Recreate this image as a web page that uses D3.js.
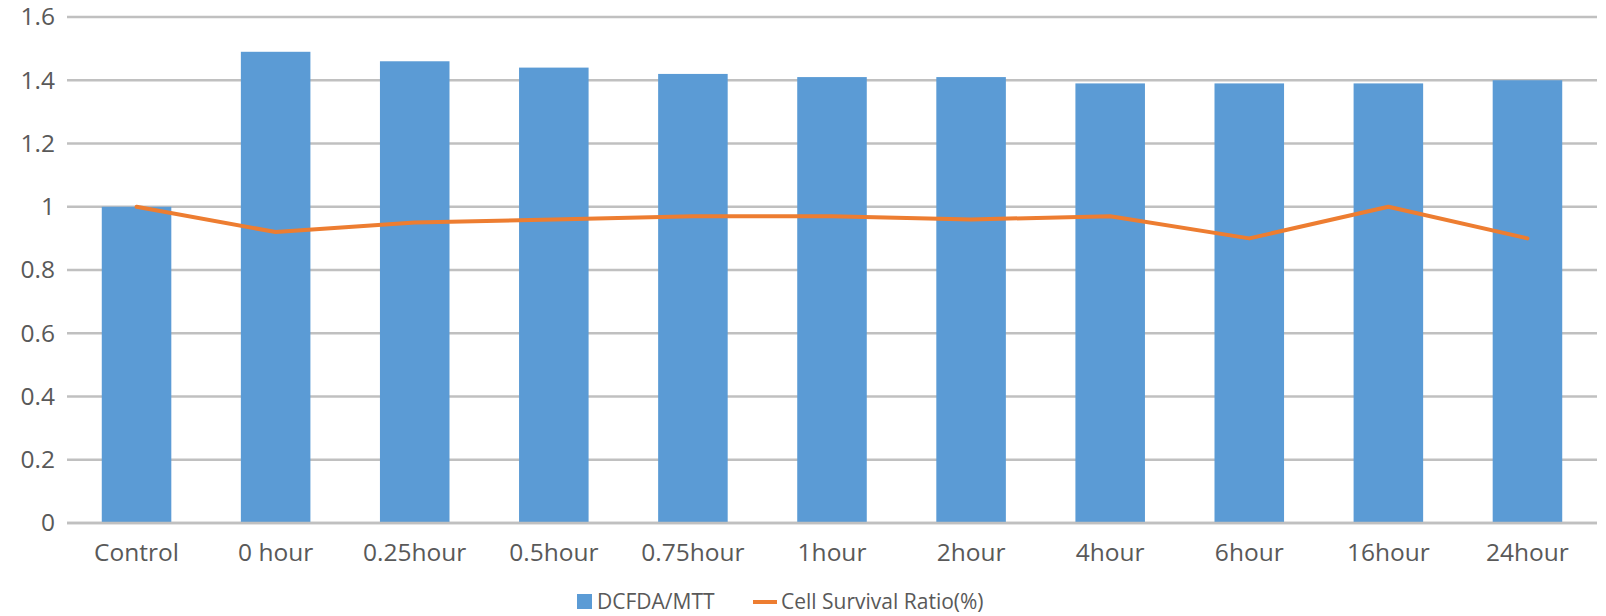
<!DOCTYPE html>
<html>
<head>
<meta charset="utf-8">
<script src="https://cdn.jsdelivr.net/npm/d3@7"></script>
<style>
  html, body { margin: 0; padding: 0; background: #fff; }
  svg { display: block; }
</style>
</head>
<body>
<svg id="chart" width="1606" height="616"></svg>
<script>
// Treatment time points
const categories = ["Control", "0 hour", "0.25hour", "0.5hour", "0.75hour", "1hour", "2hour", "4hour", "6hour", "16hour", "24hour"];
// DCFDA/MTT ratio per time point (bars)
const dcfdaMtt = [1.00, 1.49, 1.46, 1.44, 1.42, 1.41, 1.41, 1.39, 1.39, 1.39, 1.40];
// Cell survival ratio per time point (line)
const survival = [1.00, 0.92, 0.95, 0.96, 0.97, 0.97, 0.96, 0.97, 0.90, 1.00, 0.90];
// Value axis ticks
const yTicks = [0, 0.2, 0.4, 0.6, 0.8, 1, 1.2, 1.4, 1.6];
const legendLabels = ["DCFDA/MTT", "Cell Survival Ratio(%)"];

const W = 1606, H = 616;
const margin = { top: 17, right: 9, bottom: 93, left: 67 };
const svg = d3.select("#chart");
const font = "'Open Sans', sans-serif";
const axisFontSize = "24.5px";
const legendFontSize = "21px";
const textColor = "#595959";
const blue = "#5B9BD5", orange = "#ED7D31", gridColor = "#c0c0c0";

const x = d3.scaleBand()
  .domain(categories)
  .range([margin.left, W - margin.right])
  .paddingInner(0.5)
  .paddingOuter(0.25);

const y = d3.scaleLinear()
  .domain([0, 1.6])
  .range([H - margin.bottom, margin.top]);

// Horizontal gridlines
svg.append("g")
  .selectAll("line")
  .data(yTicks)
  .join("line")
  .attr("x1", margin.left)
  .attr("x2", W - margin.right)
  .attr("y1", d => y(d))
  .attr("y2", d => y(d))
  .attr("stroke", gridColor)
  .attr("stroke-width", 2.5);

// Y axis labels
const yAxis = d3.axisLeft(y).tickValues(yTicks).tickSize(0).tickPadding(12)
  .tickFormat(d3.format("~g"));
const yg = svg.append("g")
  .attr("transform", `translate(${margin.left},0)`)
  .call(yAxis);
yg.select(".domain").remove();
yg.selectAll("text")
  .attr("fill", textColor)
  .style("font-family", font)
  .style("font-size", axisFontSize);

// Bars
svg.append("g")
  .selectAll("rect")
  .data(categories)
  .join("rect")
  .attr("x", d => x(d))
  .attr("width", x.bandwidth())
  .attr("y", (d, i) => y(dcfdaMtt[i]))
  .attr("height", (d, i) => y(0) - y(dcfdaMtt[i]))
  .attr("fill", blue);

// Baseline
svg.append("line")
  .attr("x1", margin.left)
  .attr("x2", W - margin.right)
  .attr("y1", y(0))
  .attr("y2", y(0))
  .attr("stroke", gridColor)
  .attr("stroke-width", 2.5);

// Survival line
const line = d3.line()
  .x((d, i) => x(categories[i]) + x.bandwidth() / 2)
  .y(d => y(d));
svg.append("path")
  .datum(survival)
  .attr("d", line)
  .attr("fill", "none")
  .attr("stroke", orange)
  .attr("stroke-width", 4)
  .attr("stroke-linejoin", "round")
  .attr("stroke-linecap", "round");

// X axis labels
const xAxis = d3.axisBottom(x).tickSize(0).tickPadding(21);
const xg = svg.append("g")
  .attr("transform", `translate(0,${y(0)})`)
  .call(xAxis);
xg.select(".domain").remove();
xg.selectAll("text")
  .attr("fill", textColor)
  .style("font-family", font)
  .style("font-size", axisFontSize);

// Legend
const legend = svg.append("g").attr("transform", "translate(0,602)");
legend.append("rect")
  .attr("x", 577).attr("y", -8).attr("width", 15).attr("height", 15)
  .attr("fill", blue);
legend.append("text")
  .attr("x", 597).attr("y", 0).attr("dy", "0.35em")
  .attr("fill", textColor)
  .style("font-family", font).style("font-size", legendFontSize)
  .text(legendLabels[0]);
legend.append("line")
  .attr("x1", 753).attr("x2", 777).attr("y1", 0).attr("y2", 0)
  .attr("stroke", orange).attr("stroke-width", 4);
legend.append("text")
  .attr("x", 781).attr("y", 0).attr("dy", "0.35em")
  .attr("fill", textColor)
  .style("font-family", font).style("font-size", legendFontSize)
  .text(legendLabels[1]);
</script>
</body>
</html>
